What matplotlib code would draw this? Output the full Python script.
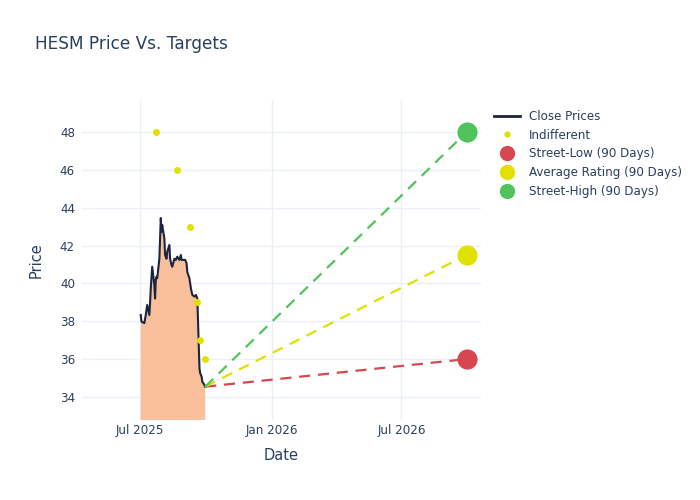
import pandas as pd
import matplotlib
matplotlib.use("Agg")
import matplotlib.pyplot as plt
import matplotlib.dates as mdates
from matplotlib.lines import Line2D

# 종가 데이터
close_dates = [
    "2025-07-02", "2025-07-03", "2025-07-07", "2025-07-09", "2025-07-11",
    "2025-07-14", "2025-07-15", "2025-07-16", "2025-07-18", "2025-07-21",
    "2025-07-22", "2025-07-23", "2025-07-24", "2025-07-25", "2025-07-28",
    "2025-07-29", "2025-07-30", "2025-07-31", "2025-08-01", "2025-08-04",
    "2025-08-05", "2025-08-07", "2025-08-08", "2025-08-11", "2025-08-12",
    "2025-08-14", "2025-08-15", "2025-08-18", "2025-08-20", "2025-08-22",
    "2025-08-25", "2025-08-27", "2025-08-28", "2025-09-02", "2025-09-04",
    "2025-09-05", "2025-09-08", "2025-09-10", "2025-09-12", "2025-09-15",
    "2025-09-17", "2025-09-19", "2025-09-22", "2025-09-23", "2025-09-24",
    "2025-09-25", "2025-09-26", "2025-09-29", "2025-09-30",
]
close_prices = [
    38.33, 37.98, 37.90, 38.33, 38.86,
    38.33, 38.95, 39.74, 40.88, 39.92,
    39.20, 40.18, 40.35, 40.27, 41.30,
    42.37, 43.45, 42.73, 43.08, 42.37,
    41.50, 41.30, 41.67, 42.03, 41.30,
    40.97, 40.88, 41.30, 41.24, 41.41,
    41.24, 41.50, 41.24, 41.24, 41.06,
    40.60, 40.27, 39.74, 39.39, 39.30,
    39.39, 39.20, 35.50, 35.25, 35.16,
    35.07, 34.80, 34.63, 34.54,
]

# 애널리스트 목표가 (Indifferent)
rating_dates = ["2025-07-24", "2025-08-21", "2025-09-09", "2025-09-19", "2025-09-23", "2025-09-30"]
rating_targets = [48, 46, 43, 39, 37, 36]

# 90일 목표가
target_date = "2026-09-30"
target_names = ["Street-Low (90 Days)", "Average Rating (90 Days)", "Street-High (90 Days)"]
target_values = [36.0, 41.5, 48.0]
target_colors = ["#D6474F", "#E1E100", "#50C35A"]

txt = "#2a3f5f"
grid = "#EBF0F8"

x = pd.to_datetime(close_dates)
rx = pd.to_datetime(rating_dates)
tx = pd.to_datetime(target_date)

fig = plt.figure(figsize=(7, 5), dpi=100)
ax = fig.add_axes([82 / 700, 80 / 500, 399 / 700, 320 / 500])

# 가격 영역 + 선
ax.fill_between(x, close_prices, 0, color="#F8BF9A", lw=0, zorder=2)
ax.plot(x, close_prices, color="#1b2540", lw=1.5, zorder=3)

# 목표가 점선
for val, col in zip(target_values, target_colors):
    ax.plot([x[-1], tx], [close_prices[-1], val], color=col, lw=1.6,
            dashes=(5, 3.5), zorder=3)

ax.plot(rx, rating_targets, "o", color="#E1E100", ms=5, mec="none", zorder=4)
for val, col in zip(target_values, target_colors):
    ax.plot([tx], [val], "o", color=col, ms=14.5, mec="none", zorder=5)

ax.set_xlim(pd.Timestamp("2025-04-11"), pd.Timestamp("2026-10-20"))
ax.set_ylim(32.78, 49.69)
ax.set_yticks(range(34, 49, 2))
ax.set_xticks(pd.to_datetime(["2025-07-01", "2026-01-01", "2026-07-01"]))
ax.xaxis.set_major_formatter(mdates.DateFormatter("%b %Y"))

ax.grid(True, color=grid, lw=1, zorder=0)
ax.set_axisbelow(True)
for s in ax.spines.values():
    s.set_visible(False)
ax.tick_params(length=0, labelsize=8.6, colors=txt)
ax.tick_params(axis="x", pad=3)
ax.tick_params(axis="y", pad=5)

ax.set_xlabel("Date", fontsize=10.5, color=txt, labelpad=8)
ax.set_ylabel("Price", fontsize=10.5, color=txt, labelpad=12)

fig.text(35 / 700, 1 - 44 / 500, "HESM Price Vs. Targets", fontsize=12.2,
         color=txt, va="center", ha="left")

handles = [
    Line2D([], [], color="#1b2540", lw=2),
    Line2D([], [], ls="none", marker="o", color="#E1E100", ms=4.5, mec="none"),
] + [Line2D([], [], ls="none", marker="o", color=c, ms=11, mec="none") for c in target_colors]
labels = ["Close Prices", "Indifferent"] + target_names
leg = fig.legend(handles, labels, loc="upper left", bbox_to_anchor=(489 / 700, 1 - 105 / 500),
                 frameon=False, fontsize=8.6, labelspacing=0.48, handlelength=2.2,
                 handletextpad=0.75, borderaxespad=0)
for t in leg.get_texts():
    t.set_color(txt)

fig.savefig("out.png", dpi=100)
